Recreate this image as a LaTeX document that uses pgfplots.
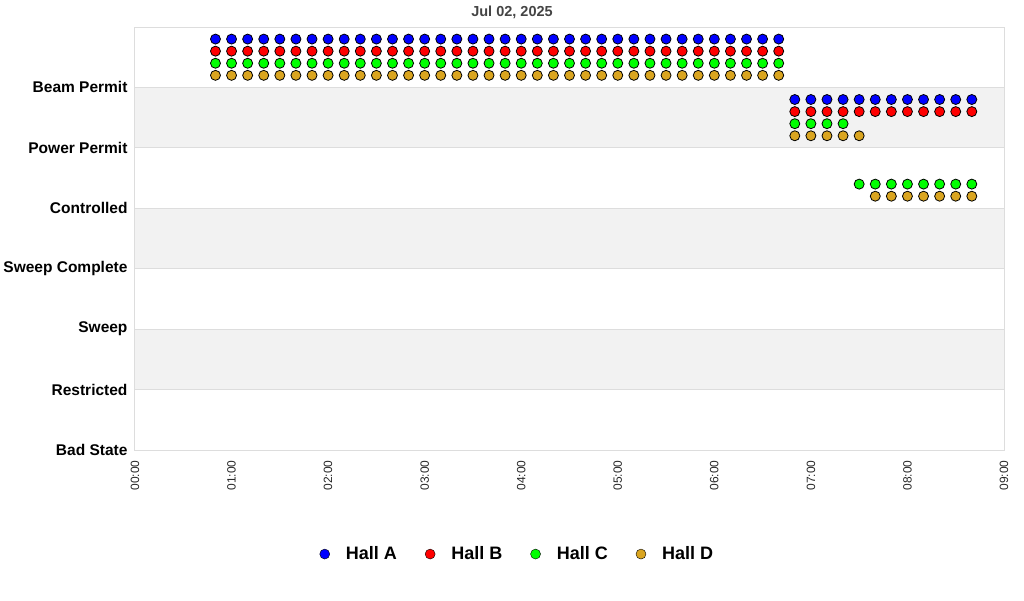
\documentclass[border=0pt]{standalone}
\usepackage{pgfplots}
\pgfplotsset{compat=1.18}
\usepackage{fontspec}
\setmainfont{Liberation Sans}
\definecolor{hallA}{RGB}{0,0,255}
\definecolor{hallB}{RGB}{255,0,0}
\definecolor{hallC}{RGB}{0,255,0}
\definecolor{hallD}{RGB}{218,165,32}
\definecolor{band}{RGB}{242,242,242}
\definecolor{gridc}{RGB}{221,221,221}
\definecolor{titlec}{RGB}{68,68,68}
\begin{document}
\begin{tikzpicture}[x=1pt,y=1pt]
\useasboundingbox (0,0) rectangle (1024,600);
\node[font=\fontsize{14.5}{16}\selectfont\bfseries, text=titlec] at (512,588) {Jul 02, 2025};
\begin{axis}[
  at={(135pt,150pt)}, anchor=south west,
  scale only axis, width=869pt, height=423pt,
  xmin=0, xmax=540, ymin=0, ymax=7,
  xtick={0,60,...,540},
  xticklabels={00:00,01:00,02:00,03:00,04:00,05:00,06:00,07:00,08:00,09:00},
  ytick={0,1,2,3,4,5,6},
  yticklabels={Bad State,Restricted,Sweep,Sweep Complete,Controlled,Power Permit,Beam Permit},
  major tick length=0pt,
  x tick label style={rotate=90, anchor=east, font=\fontsize{12}{14}\selectfont, text=black!85},
  y tick label style={font=\fontsize{15.5}{17}\selectfont\bfseries, text=black},
  xticklabel shift=7pt,
  yticklabel shift=4pt,
  ymajorgrids, grid style={gridc, line width=1pt},
  axis line style={gridc, line width=1pt},
  axis on top,
  clip=false,
  legend style={at={(0.440,-0.246)}, anchor=center, draw=none, fill=none,
    font=\fontsize{18}{20}\selectfont\bfseries,
    /tikz/every odd column/.append style={column sep=14pt},
    /tikz/every even column/.append style={column sep=26pt}},
  legend columns=4,
  legend cell align=left,
  legend image code/.code={\draw[#1] (0pt,0pt) circle (5pt);},
]
\addplot[fill=band, draw=none, forget plot] coordinates {(0,5) (540,5) (540,6) (0,6)} -- cycle;
\addplot[fill=band, draw=none, forget plot] coordinates {(0,3) (540,3) (540,4) (0,4)} -- cycle;
\addplot[fill=band, draw=none, forget plot] coordinates {(0,1) (540,1) (540,2) (0,2)} -- cycle;

\addplot[only marks, mark=*, mark size=5pt, mark options={fill=hallA, draw=black, line width=0.8pt}, fill=hallA, draw=black] coordinates {
(50,6.8)(60,6.8)(70,6.8)(80,6.8)(90,6.8)(100,6.8)(110,6.8)(120,6.8)(130,6.8)(140,6.8)(150,6.8)(160,6.8)
(170,6.8)(180,6.8)(190,6.8)(200,6.8)(210,6.8)(220,6.8)(230,6.8)(240,6.8)(250,6.8)(260,6.8)(270,6.8)(280,6.8)
(290,6.8)(300,6.8)(310,6.8)(320,6.8)(330,6.8)(340,6.8)(350,6.8)(360,6.8)(370,6.8)(380,6.8)(390,6.8)(400,6.8)
(410,5.8)(420,5.8)(430,5.8)(440,5.8)(450,5.8)(460,5.8)(470,5.8)(480,5.8)(490,5.8)(500,5.8)(510,5.8)(520,5.8)
};
\addlegendentry{Hall A}
\addplot[only marks, mark=*, mark size=5pt, mark options={fill=hallB, draw=black, line width=0.8pt}, fill=hallB, draw=black] coordinates {
(50,6.6)(60,6.6)(70,6.6)(80,6.6)(90,6.6)(100,6.6)(110,6.6)(120,6.6)(130,6.6)(140,6.6)(150,6.6)(160,6.6)
(170,6.6)(180,6.6)(190,6.6)(200,6.6)(210,6.6)(220,6.6)(230,6.6)(240,6.6)(250,6.6)(260,6.6)(270,6.6)(280,6.6)
(290,6.6)(300,6.6)(310,6.6)(320,6.6)(330,6.6)(340,6.6)(350,6.6)(360,6.6)(370,6.6)(380,6.6)(390,6.6)(400,6.6)
(410,5.6)(420,5.6)(430,5.6)(440,5.6)(450,5.6)(460,5.6)(470,5.6)(480,5.6)(490,5.6)(500,5.6)(510,5.6)(520,5.6)
};
\addlegendentry{Hall B}
\addplot[only marks, mark=*, mark size=5pt, mark options={fill=hallC, draw=black, line width=0.8pt}, fill=hallC, draw=black] coordinates {
(50,6.4)(60,6.4)(70,6.4)(80,6.4)(90,6.4)(100,6.4)(110,6.4)(120,6.4)(130,6.4)(140,6.4)(150,6.4)(160,6.4)
(170,6.4)(180,6.4)(190,6.4)(200,6.4)(210,6.4)(220,6.4)(230,6.4)(240,6.4)(250,6.4)(260,6.4)(270,6.4)(280,6.4)
(290,6.4)(300,6.4)(310,6.4)(320,6.4)(330,6.4)(340,6.4)(350,6.4)(360,6.4)(370,6.4)(380,6.4)(390,6.4)(400,6.4)
(410,5.4)(420,5.4)(430,5.4)(440,5.4)
(450,4.4)(460,4.4)(470,4.4)(480,4.4)(490,4.4)(500,4.4)(510,4.4)(520,4.4)
};
\addlegendentry{Hall C}
\addplot[only marks, mark=*, mark size=5pt, mark options={fill=hallD, draw=black, line width=0.8pt}, fill=hallD, draw=black] coordinates {
(50,6.2)(60,6.2)(70,6.2)(80,6.2)(90,6.2)(100,6.2)(110,6.2)(120,6.2)(130,6.2)(140,6.2)(150,6.2)(160,6.2)
(170,6.2)(180,6.2)(190,6.2)(200,6.2)(210,6.2)(220,6.2)(230,6.2)(240,6.2)(250,6.2)(260,6.2)(270,6.2)(280,6.2)
(290,6.2)(300,6.2)(310,6.2)(320,6.2)(330,6.2)(340,6.2)(350,6.2)(360,6.2)(370,6.2)(380,6.2)(390,6.2)(400,6.2)
(410,5.2)(420,5.2)(430,5.2)(440,5.2)(450,5.2)
(460,4.2)(470,4.2)(480,4.2)(490,4.2)(500,4.2)(510,4.2)(520,4.2)
};
\addlegendentry{Hall D}
\end{axis}
\end{tikzpicture}
\end{document}
